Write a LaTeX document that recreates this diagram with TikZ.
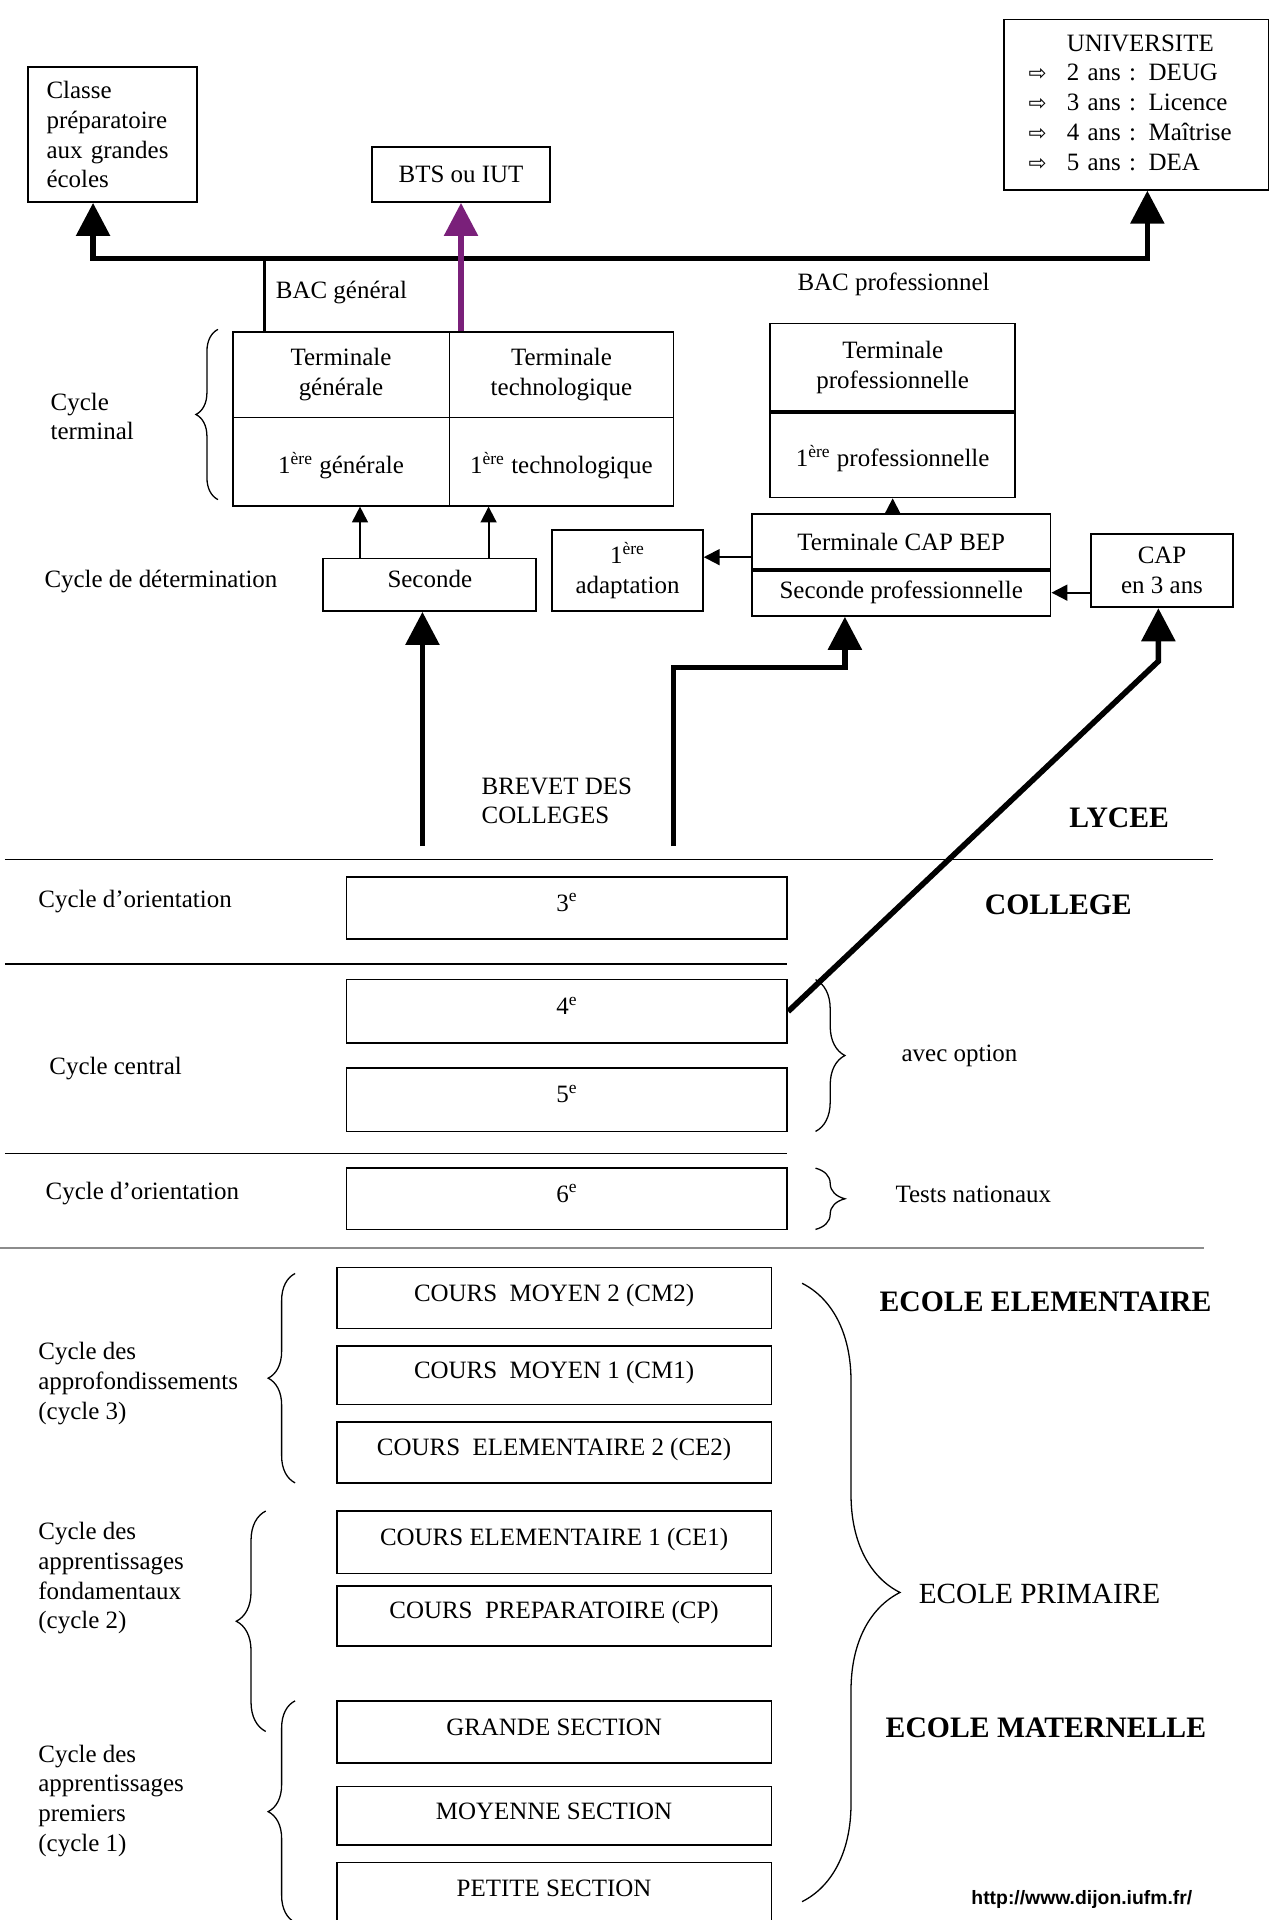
\documentclass[tikz,border=0pt]{standalone}
\usepackage{fontspec}
\setmainfont{Liberation Serif}
\newfontfamily\symfont{DejaVu Sans}
\newfontfamily\urlfont{Liberation Sans}
\usetikzlibrary{arrows.meta,decorations.pathreplacing}
\newcommand\fsnorm{\fontsize{11.6pt}{13.8pt}\selectfont}
\newcommand\fshead{\fontsize{13.8pt}{16pt}\selectfont\bfseries}
\newcommand\fsprim{\fontsize{13.6pt}{16pt}\selectfont}
\newcommand\fsurl{\urlfont\bfseries\fontsize{9pt}{11pt}\selectfont}
\newcommand\sarw{{\symfont\fontsize{10pt}{12pt}\selectfont ⇨}}
\definecolor{bacpurple}{RGB}{122,32,122}
\begin{document}
\begin{tikzpicture}[x=0.02cm, y=-0.02cm,
  bx/.style 2 args={draw, line width=0.8pt, minimum width=#1*0.02cm, minimum height=#2*0.02cm, inner sep=0pt, align=center, font=\fsnorm},
  rowtext/.style={text height=8.7pt, text depth=5.7pt},
  lbl/.style={anchor=west, inner sep=0pt, align=left, font=\fsnorm},
  head/.style={anchor=west, inner sep=0pt, font=\fshead},
  bigarrow/.style={line width=2.6pt, -{Triangle[length=0.54cm,width=0.54cm]}},
  smallarrow/.style={line width=0.9pt, -{Triangle[length=0.26cm,width=0.26cm]}},
  rulel/.style={line width=0.8pt},
  br/.style={decorate, decoration={brace, amplitude=#1}, line width=0.6pt}
]
\useasboundingbox (0,0) rectangle (1045,1568);
\fill[white] (0,0) rectangle (1045,1568);
\clip (0,0) rectangle (1045,1568);

% ---------- top: after BAC ----------
\node[bx={138}{110}, align=left, text width=108*0.02cm] (classe) at (92,110) {Classe\\préparatoire\\aux grandes\\écoles};
\node[bx={145}{45}] (bts) at (376.5,142.5) {BTS ou IUT};
\node[bx={216}{139}, align=left, text width=176*0.02cm] (univ) at (928,85.5)
  {\begin{tabular}{@{}l@{\hspace{0.33cm}}l@{}} & UNIVERSITE\\ \sarw & 2 ans : DEUG\\ \sarw & 3 ans : Licence\\ \sarw & 4 ans : Maîtrise\\ \sarw & 5 ans : DEA\end{tabular}};

% ---------- lycee ----------
\node[bx={177}{70}] (tg) at (278.5,306) {Terminale\\générale};
\node[bx={183}{70}] (tt) at (458.5,306) {Terminale\\technologique};
\node[bx={177}{72}] (pg) at (278.5,377) {\mbox{}\\1\textsuperscript{ère} générale};
\node[bx={183}{72}] (pt) at (458.5,377) {\mbox{}\\1\textsuperscript{ère} technologique};
\node[bx={174}{43}, rowtext] (sec) at (351,477.5) {Seconde};
\node[bx={123}{66}] (adapt) at (512.5,466) {1\textsuperscript{ère}\\adaptation};
\node[bx={200}{71.5}] (tp) at (729,300) {Terminale\\professionnelle};
\node[bx={200}{70.5}] (pp) at (729,371) {\mbox{}\\1\textsuperscript{ère} professionnelle};
\node[bx={244}{45}] (cb) at (736,442.5) {Terminale CAP BEP};
\node[bx={244}{38}] (sp) at (736,484) {Seconde professionnelle};
\node[bx={116}{60}] (cap) at (949,466) {CAP\\en 3 ans};
\draw[line width=1.8pt] (tp.south west) -- (tp.south east);
\draw[line width=1.8pt] (cb.south west) -- (cb.south east);

% ---------- college ----------
\node[bx={360}{51}, rowtext] (q3) at (463,741.5) {3\textsuperscript{e}};
\node[bx={360}{52}, rowtext] (q4) at (463,826) {4\textsuperscript{e}};
\node[bx={360}{52}, rowtext] (q5) at (463,898) {5\textsuperscript{e}};
\node[bx={360}{50}, rowtext] (q6) at (463,979) {6\textsuperscript{e}};

% ---------- ecole ----------
\node[bx={355}{50}, rowtext] (cm2) at (452.5,1060) {COURS\ \ MOYEN 2 (CM2)};
\node[bx={355}{48}, rowtext] (cm1) at (452.5,1123) {COURS\ \ MOYEN 1 (CM1)};
\node[bx={355}{50}, rowtext] (ce2) at (452.5,1186) {COURS\ \ ELEMENTAIRE 2 (CE2)};
\node[bx={355}{51}, rowtext] (ce1) at (452.5,1259.5) {COURS ELEMENTAIRE 1 (CE1)};
\node[bx={355}{49}, rowtext] (cp) at (452.5,1319.5) {COURS\ \ PREPARATOIRE (CP)};
\node[bx={355}{51}, rowtext] (gs) at (452.5,1414.5) {GRANDE SECTION};
\node[bx={355}{48}, rowtext] (ms) at (452.5,1483) {MOYENNE SECTION};
\node[bx={355}{51}, rowtext] (ps) at (452.5,1546.5) {PETITE SECTION};

% ---------- labels ----------
\node[lbl] (lcterm) at (41,340) {Cycle\\terminal};
\node[lbl] (ldet) at (36,475) {Cycle de détermination};
\node[lbl] (lbac) at (225,239) {BAC général};
\node[lbl] (lbacp) at (651,232) {BAC professionnel};
\node[lbl] (lbrevet) at (393,654) {BREVET DES\\COLLEGES};
\node[head] (llycee) at (873,668) {LYCEE};
\node[head] (lcollege) at (804,739) {COLLEGE};
\node[lbl] (lor1) at (31,736) {Cycle d'orientation};
\node[lbl] (lcentral) at (40,873) {Cycle central};
\node[lbl] (lor2) at (37,975) {Cycle d'orientation};
\node[lbl] (lopt) at (736,862) {avec option};
\node[lbl] (ltests) at (731,975) {Tests nationaux};
\node[lbl] (lc3) at (31,1130) {Cycle des\\approfondissements\\(cycle 3)};
\node[lbl] (lc2) at (31,1289) {Cycle des\\apprentissages\\fondamentaux\\(cycle 2)};
\node[lbl] (lc1) at (31,1470.5) {Cycle des\\apprentissages\\premiers\\(cycle 1)};
\node[head] (lelem) at (718,1063) {ECOLE ELEMENTAIRE};
\node[anchor=west, inner sep=0pt, font=\fsprim] (lprim) at (750,1302) {ECOLE PRIMAIRE};
\node[head] (lmat) at (723,1411) {ECOLE MATERNELLE};
\node[anchor=west, inner sep=0pt, font=\fsurl] (lurl) at (793,1551) {http://www.dijon.iufm.fr/};

% ---------- rules ----------
\draw[rulel] (4,702) -- (991,702);
\draw[rulel] (4,787) -- (643,787);
\draw[rulel] (4,942) -- (643,942);
\draw[rulel, black!45] (0,1019) -- (983,1019);

% ---------- braces ----------
\draw[br=0.36cm] (178,408) -- (178,269);
\draw[br=0.48cm] (666,800) -- (666,924);
\draw[br=0.48cm] (666,954) -- (666,1004);
\draw[br=0.44cm] (241,1211) -- (241,1040);
\draw[br=0.48cm] (217,1414) -- (217,1234);
\draw[br=0.44cm] (241,1570) -- (241,1389);
\draw[br=1.6cm] (655,1048) -- (655,1553);

% ---------- connectors ----------
\coordinate (j1) at (76,211);
\coordinate (j2) at (937,211);
\coordinate (j3) at (216,211);
\draw[line width=2.6pt, {Triangle[length=0.54cm,width=0.54cm]}-{Triangle[length=0.54cm,width=0.54cm]}]
  (j1 |- classe.south) -- (j1) -- (j2) -- (j2 |- univ.south);
\draw[line width=1.8pt] (j3) -- (j3 |- tg.north);
\draw[bigarrow, bacpurple] (bts.south |- tt.north) -- (bts.south);

\coordinate (s1) at (294,456);
\coordinate (s2) at (399,456);
\draw[smallarrow] (s1) -- (s1 |- pg.south);
\draw[smallarrow] (s2) -- (s2 |- pt.south);
\draw[smallarrow] (cb.north -| pp.south) -- (pp.south);
\coordinate (a1) at (614,455);
\draw[smallarrow] (a1) -- (a1 -| adapt.east);
\draw[smallarrow] (cap.west |- sp.east) -- (sp.east);

\coordinate (b1) at (345,691);
\coordinate (b2) at (550,691);
\coordinate (b3) at (690,545);
\coordinate (b4) at (946,540);
\draw[bigarrow] (b1) -- (b1 |- sec.south);
\draw[bigarrow] (b2) |- (b3) -- (b3 |- sp.south);
\draw[bigarrow] (q4.east) -- (b4) -- (b4 |- cap.south);
\end{tikzpicture}
\end{document}
